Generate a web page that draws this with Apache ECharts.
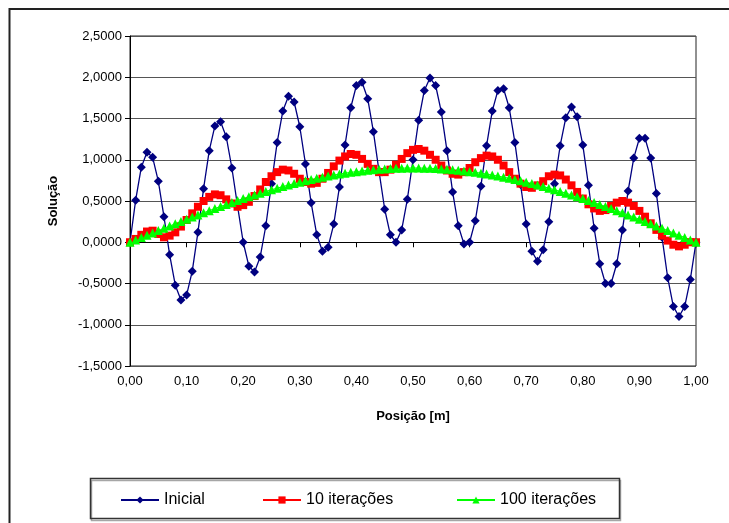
<!DOCTYPE html>
<html>
<head>
<meta charset="utf-8">
<script src="https://cdn.jsdelivr.net/npm/echarts@6/dist/echarts.min.js"></script>
<style>
  html, body { margin: 0; padding: 0; background: #fff; }
  #chart { width: 729px; height: 523px; }
</style>
</head>
<body>
<div id="chart"></div>
<script>
// posição [m]
const posicao = [
  0, 0.01, 0.02, 0.03, 0.04, 0.05, 0.06, 0.07, 0.08, 0.09,
  0.1, 0.11, 0.12, 0.13, 0.14, 0.15, 0.16, 0.17, 0.18, 0.19,
  0.2, 0.21, 0.22, 0.23, 0.24, 0.25, 0.26, 0.27, 0.28, 0.29,
  0.3, 0.31, 0.32, 0.33, 0.34, 0.35, 0.36, 0.37, 0.38, 0.39,
  0.4, 0.41, 0.42, 0.43, 0.44, 0.45, 0.46, 0.47, 0.48, 0.49,
  0.5, 0.51, 0.52, 0.53, 0.54, 0.55, 0.56, 0.57, 0.58, 0.59,
  0.6, 0.61, 0.62, 0.63, 0.64, 0.65, 0.66, 0.67, 0.68, 0.69,
  0.7, 0.71, 0.72, 0.73, 0.74, 0.75, 0.76, 0.77, 0.78, 0.79,
  0.8, 0.81, 0.82, 0.83, 0.84, 0.85, 0.86, 0.87, 0.88, 0.89,
  0.9, 0.91, 0.92, 0.93, 0.94, 0.95, 0.96, 0.97, 0.98, 0.99,
  1
]

const inicial = [
  0.00, 0.51, 0.91, 1.09, 1.03, 0.74, 0.31, -0.15, -0.52, -0.70,
  -0.64, -0.35, 0.12, 0.65, 1.11, 1.41, 1.46, 1.28, 0.90, 0.44,
  0.00, -0.29, -0.36, -0.18, 0.20, 0.71, 1.21, 1.59, 1.77, 1.70,
  1.40, 0.95, 0.48, 0.09, -0.11, -0.06, 0.22, 0.67, 1.18, 1.63,
  1.90, 1.94, 1.74, 1.34, 0.86, 0.40, 0.09, 0.00, 0.15, 0.52,
  1.00, 1.48, 1.84, 1.99, 1.90, 1.58, 1.11, 0.61, 0.20, -0.02,
  0.00, 0.26, 0.68, 1.17, 1.59, 1.84, 1.86, 1.63, 1.21, 0.70,
  0.22, -0.11, -0.23, -0.09, 0.25, 0.71, 1.17, 1.51, 1.64, 1.52,
  1.18, 0.69, 0.17, -0.26, -0.50, -0.50, -0.26, 0.15, 0.62, 1.02,
  1.26, 1.26, 1.02, 0.59, 0.06, -0.43, -0.78, -0.90, -0.78, -0.45,
  0.00
]

const iter10 = [
  0.00, 0.04, 0.09, 0.13, 0.14, 0.10, 0.06, 0.08, 0.12, 0.19,
  0.27, 0.35, 0.43, 0.50, 0.55, 0.58, 0.57, 0.52, 0.47, 0.43,
  0.45, 0.49, 0.56, 0.64, 0.73, 0.80, 0.85, 0.88, 0.87, 0.83,
  0.77, 0.73, 0.71, 0.72, 0.77, 0.84, 0.92, 0.99, 1.04, 1.07,
  1.06, 1.01, 0.95, 0.89, 0.85, 0.85, 0.88, 0.94, 1.01, 1.08,
  1.12, 1.13, 1.11, 1.06, 1.00, 0.93, 0.87, 0.83, 0.82, 0.85,
  0.90, 0.97, 1.02, 1.05, 1.04, 1.00, 0.93, 0.85, 0.77, 0.71,
  0.67, 0.66, 0.69, 0.74, 0.80, 0.82, 0.81, 0.76, 0.69, 0.61,
  0.53, 0.46, 0.41, 0.38, 0.39, 0.44, 0.48, 0.50, 0.48, 0.44,
  0.38, 0.31, 0.23, 0.15, 0.08, 0.02, -0.03, -0.05, -0.03, 0.00,
  0.00
]

const iter100 = [
  0.000, 0.028, 0.057, 0.085, 0.113, 0.141, 0.169, 0.196, 0.224, 0.251,
  0.278, 0.305, 0.331, 0.357, 0.383, 0.409, 0.434, 0.458, 0.482, 0.506,
  0.529, 0.552, 0.574, 0.595, 0.616, 0.636, 0.656, 0.675, 0.693, 0.711,
  0.728, 0.744, 0.760, 0.775, 0.789, 0.802, 0.814, 0.826, 0.837, 0.847,
  0.856, 0.864, 0.872, 0.878, 0.884, 0.889, 0.893, 0.896, 0.898, 0.900,
  0.900, 0.900, 0.898, 0.896, 0.893, 0.889, 0.884, 0.878, 0.872, 0.864,
  0.856, 0.847, 0.837, 0.826, 0.814, 0.802, 0.789, 0.775, 0.760, 0.744,
  0.728, 0.711, 0.693, 0.675, 0.656, 0.636, 0.616, 0.595, 0.574, 0.552,
  0.529, 0.506, 0.482, 0.458, 0.434, 0.409, 0.383, 0.357, 0.331, 0.305,
  0.278, 0.251, 0.224, 0.196, 0.169, 0.141, 0.113, 0.085, 0.057, 0.028,
  0.000
]

const nomes = ['Inicial', '10 iterações', '100 iterações']

function pares(ys) {
  return ys.map((y, i) => [posicao[i], y])
}

const fonte = 'Liberation Sans, Arial, sans-serif'

const chart = echarts.init(document.getElementById('chart'))

const legendaBase = {
  top: 487,
  itemWidth: 38,
  itemHeight: 9,
  textStyle: { fontFamily: fonte, fontSize: 16, color: '#000' }
}

const option = {
  animation: false,
  backgroundColor: '#fff',
  grid: {
    left: 130,
    right: 33,
    top: 36,
    bottom: 157,
    show: true,
    borderColor: '#222',
    borderWidth: 1
  },
  legend: [
    Object.assign({ left: 115, data: [nomes[0]] }, legendaBase),
    Object.assign({ left: 257, data: [nomes[1]] }, legendaBase),
    Object.assign({ left: 451, data: [nomes[2]] }, legendaBase)
  ],
  xAxis: {
    type: 'value',
    min: 0,
    max: 1,
    interval: 0.1,
    name: 'Posição [m]',
    nameLocation: 'middle',
    nameGap: 44,
    nameTextStyle: { fontFamily: fonte, fontSize: 13, fontWeight: 'bold', color: '#000' },
    axisLine: { lineStyle: { color: '#000' } },
    axisTick: { show: true, length: 5, lineStyle: { color: '#000' } },
    axisLabel: {
      margin: 9,
      fontFamily: fonte,
      fontSize: 13,
      color: '#000',
      formatter: (v) => v.toFixed(2).replace('.', ',')
    },
    splitLine: { show: false }
  },
  yAxis: {
    type: 'value',
    min: -1.5,
    max: 2.5,
    interval: 0.5,
    name: 'Solução',
    nameLocation: 'middle',
    nameGap: 70,
    nameTextStyle: { fontFamily: fonte, fontSize: 13, fontWeight: 'bold', color: '#000' },
    axisLine: { show: true, lineStyle: { color: '#000' } },
    axisTick: { show: true, length: 5, lineStyle: { color: '#000' } },
    axisLabel: {
      margin: 8,
      fontFamily: fonte,
      fontSize: 13,
      color: '#000',
      formatter: (v) => v.toFixed(4).replace('.', ',')
    },
    splitLine: { show: true, lineStyle: { color: '#555', width: 1 } }
  },
  graphic: [
    {
      // moldura externa do gráfico
      type: 'rect',
      shape: { x: 9.5, y: 9, width: 760, height: 560 },
      style: { fill: 'none', stroke: '#222', lineWidth: 2 },
      silent: true
    },
    {
      // caixa da legenda
      type: 'rect',
      shape: { x: 90.5, y: 478.5, width: 529, height: 40 },
      style: {
        fill: 'none',
        stroke: '#333',
        lineWidth: 1.5,
        shadowColor: 'rgba(0,0,0,0.35)',
        shadowOffsetX: 1,
        shadowOffsetY: 2
      },
      silent: true
    }
  ],
  series: [
    {
      name: nomes[0],
      type: 'line',
      data: pares(inicial),
      symbol: 'diamond',
      symbolSize: 9,
      lineStyle: { color: '#000080', width: 1.3 },
      itemStyle: { color: '#000080' }
    },
    {
      name: nomes[1],
      type: 'line',
      data: pares(iter10),
      symbol: 'rect',
      symbolSize: 8,
      lineStyle: { color: '#ff0000', width: 1 },
      itemStyle: { color: '#ff0000' }
    },
    {
      name: nomes[2],
      type: 'line',
      data: pares(iter100),
      symbol: 'triangle',
      symbolSize: 9,
      lineStyle: { color: '#00ff00', width: 1 },
      itemStyle: { color: '#00ff00' }
    }
  ]
}

chart.setOption(option)
</script>
</body>
</html>
